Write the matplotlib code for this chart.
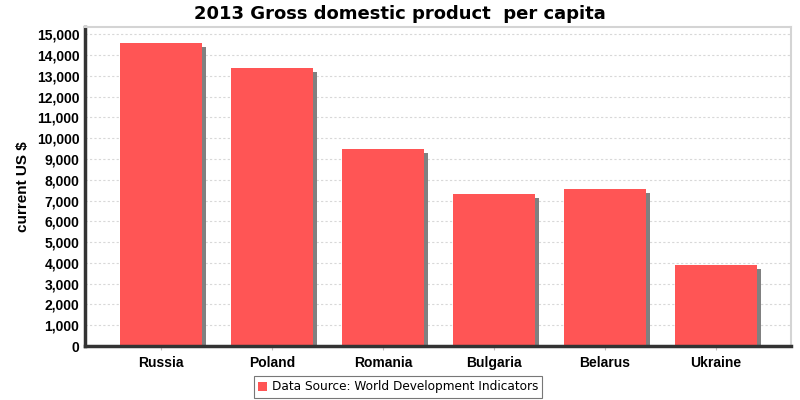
import numpy as np
import matplotlib.pyplot as plt
from matplotlib.ticker import FuncFormatter, MultipleLocator
from matplotlib.transforms import offset_copy

# GDP per capita, 2013 (current US $)
countries = ['Russia', 'Poland', 'Romania', 'Bulgaria', 'Belarus', 'Ukraine']
gdp_per_capita = [14600, 13400, 9500, 7300, 7575, 3900]

bar_color = '#ff5555'
shadow_color = '#808080'

fig = plt.figure(figsize=(8, 4), dpi=100)
ax = fig.add_axes([85/800, 1 - 346/400, 706/800, (346 - 27)/400])

x = np.arange(len(countries))
width = 0.74

# offset shadow drawn first
shadow_tr = offset_copy(ax.transData, fig=fig, x=4, y=-4, units='dots')
ax.bar(x, gdp_per_capita, width=width, color=shadow_color, transform=shadow_tr, zorder=2)
ax.bar(x, gdp_per_capita, width=width, color=bar_color, zorder=3,
       label='Data Source: World Development Indicators')

ax.set_xlim(-0.685, 5.68)
ax.set_ylim(0, 15350)
ax.yaxis.set_major_locator(MultipleLocator(1000))
ax.yaxis.set_major_formatter(FuncFormatter(lambda v, p: f'{int(v):,}'))
ax.set_xticks(x)
ax.set_xticklabels(countries)

ax.grid(axis='y', color='#d8d8d8', linestyle=(0, (2, 2)), linewidth=0.8, zorder=0)
ax.set_axisbelow(True)

for side in ['top', 'right']:
    ax.spines[side].set_color('#d4d4d4')
    ax.spines[side].set_linewidth(1.5)
ax.spines['left'].set_color('#333333')
ax.spines['left'].set_linewidth(2.5)
ax.spines['bottom'].set_color('#333333')
ax.spines['bottom'].set_linewidth(2.5)
ax.spines['bottom'].set_zorder(4)

ax.tick_params(axis='y', length=0, pad=4, labelsize=10)
ax.tick_params(axis='x', length=3, color='#c0c0c0', pad=4, labelsize=10)
for lbl in ax.get_xticklabels() + ax.get_yticklabels():
    lbl.set_fontfamily('Liberation Sans')
    lbl.set_fontweight('bold')

ax.set_ylabel('current US $', fontfamily='Liberation Sans', fontweight='bold',
              fontsize=11, labelpad=5)

fig.suptitle('2013 Gross domestic product  per capita', fontweight='bold',
             fontsize=13, y=0.988)

leg = fig.legend(loc='lower center', bbox_to_anchor=(0.4975, 0.0), ncol=1,
                 fontsize=8.7, frameon=True, fancybox=False, handlelength=0.75,
                 handleheight=0.75, handletextpad=0.4, borderpad=0.35,
                 borderaxespad=0.2)
leg.get_frame().set_edgecolor('#555555')
leg.get_frame().set_linewidth(0.8)

fig.savefig('out.png', dpi=100)
